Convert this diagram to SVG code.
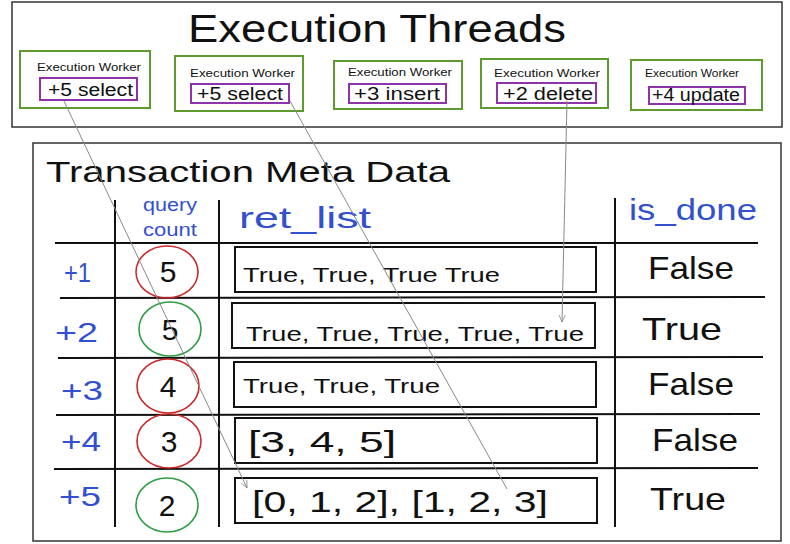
<svg xmlns="http://www.w3.org/2000/svg" width="790" height="544" viewBox="0 0 790 544">
<style>
  .t{font-family:"Liberation Sans","DejaVu Sans",sans-serif;fill:#111}
  .b{font-family:"Liberation Sans","DejaVu Sans",sans-serif;fill:#3350cf}
  .frame{fill:none;stroke:#333;stroke-width:1.5}
  .worker{fill:none;stroke:#5e9a2e;stroke-width:2}
  .op{fill:none;stroke:#8e34a8;stroke-width:2}
  .grid{stroke:#111;stroke-width:2;fill:none}
  .cell{fill:none;stroke:#111;stroke-width:2}
  .red{fill:none;stroke:#c92a2a;stroke-width:1.6}
  .grn{fill:none;stroke:#2f9e44;stroke-width:1.6}
  .conn{fill:none;stroke:#888;stroke-width:1}
</style>
<defs>
  <marker id="ah" viewBox="0 0 10 10" refX="9" refY="5" markerWidth="8" markerHeight="8" orient="auto" markerUnits="userSpaceOnUse">
    <path d="M0,1 L9,5 L0,9" fill="none" stroke="#888" stroke-width="1"/>
  </marker>
</defs>
<rect width="790" height="544" fill="#fff"/>

<g id="execution-threads">
  <rect class="frame" x="12" y="2" width="770" height="125"/>
  <text class="t" x="188" y="42" font-size="38" textLength="378" lengthAdjust="spacingAndGlyphs">Execution Threads</text>
</g>

<g id="worker1">
  <rect class="worker" x="20" y="51" width="130" height="57"/>
  <text class="t" x="37" y="71" font-size="11" textLength="104" lengthAdjust="spacingAndGlyphs">Execution Worker</text>
  <rect class="op" x="40" y="78" width="97" height="22"/>
  <text class="t" x="48" y="96" font-size="18" textLength="85" lengthAdjust="spacingAndGlyphs">+5 select</text>
</g>
<g id="worker2">
  <rect class="worker" x="175" y="56" width="128" height="55"/>
  <text class="t" x="190" y="77" font-size="11" textLength="105" lengthAdjust="spacingAndGlyphs">Execution Worker</text>
  <rect class="op" x="191" y="84" width="98" height="19"/>
  <text class="t" x="197" y="100" font-size="18" textLength="86" lengthAdjust="spacingAndGlyphs">+5 select</text>
</g>
<g id="worker3">
  <rect class="worker" x="334" y="61" width="128" height="48"/>
  <text class="t" x="348" y="76" font-size="11" textLength="104" lengthAdjust="spacingAndGlyphs">Execution Worker</text>
  <rect class="op" x="349" y="84" width="97" height="19"/>
  <text class="t" x="354" y="100" font-size="18" textLength="86" lengthAdjust="spacingAndGlyphs">+3 insert</text>
</g>
<g id="worker4">
  <rect class="worker" x="481" y="59" width="127" height="49"/>
  <text class="t" x="494" y="77" font-size="11" textLength="106" lengthAdjust="spacingAndGlyphs">Execution Worker</text>
  <rect class="op" x="497" y="83" width="99" height="20"/>
  <text class="t" x="503" y="100" font-size="18" textLength="90" lengthAdjust="spacingAndGlyphs">+2 delete</text>
</g>
<g id="worker5">
  <rect class="worker" x="631" y="60" width="131" height="50"/>
  <text class="t" x="645" y="77" font-size="11" textLength="94" lengthAdjust="spacingAndGlyphs">Execution Worker</text>
  <rect class="op" x="649" y="87" width="96" height="17"/>
  <text class="t" x="652" y="101" font-size="18" textLength="88" lengthAdjust="spacingAndGlyphs">+4 update</text>
</g>

<g id="transaction-meta-data">
  <rect class="frame" x="33" y="143" width="748" height="398"/>
  <text class="t" x="46" y="182" font-size="30" textLength="404" lengthAdjust="spacingAndGlyphs">Transaction Meta Data</text>
</g>

<g id="table-grid">
  <line class="grid" x1="115" y1="200" x2="115" y2="527"/>
  <line class="grid" x1="219" y1="200" x2="219" y2="527"/>
  <line class="grid" x1="615" y1="198" x2="615" y2="527"/>
  <line class="grid" x1="55" y1="243" x2="758" y2="243"/>
  <line class="grid" x1="60" y1="298" x2="765" y2="297"/>
  <line class="grid" x1="58" y1="358" x2="763" y2="357"/>
  <line class="grid" x1="56" y1="415" x2="760" y2="414"/>
  <line class="grid" x1="54" y1="469" x2="758" y2="468"/>
</g>

<g id="headers">
  <text class="b" x="143" y="211" font-size="18" textLength="54" lengthAdjust="spacingAndGlyphs">query</text>
  <text class="b" x="143" y="236" font-size="18" textLength="54" lengthAdjust="spacingAndGlyphs">count</text>
  <text class="b" x="239" y="228" font-size="30" textLength="132" lengthAdjust="spacingAndGlyphs">ret_list</text>
  <text class="b" x="629" y="220" font-size="30" textLength="128" lengthAdjust="spacingAndGlyphs">is_done</text>
</g>

<g id="row1">
  <text class="b" x="64" y="282" font-size="28" textLength="27" lengthAdjust="spacingAndGlyphs">+1</text>
  <ellipse class="red" cx="167" cy="272" rx="31" ry="26"/>
  <text class="t" x="168" y="282" font-size="30" text-anchor="middle">5</text>
  <rect class="cell" x="235" y="247" width="361" height="45"/>
  <text class="t" x="243" y="282" font-size="21" textLength="257" lengthAdjust="spacingAndGlyphs">True, True, True True</text>
  <text class="t" x="648" y="279" font-size="32" textLength="86" lengthAdjust="spacingAndGlyphs">False</text>
</g>
<g id="row2">
  <text class="b" x="55" y="342" font-size="28" textLength="43" lengthAdjust="spacingAndGlyphs">+2</text>
  <ellipse class="grn" cx="170" cy="329" rx="31" ry="27"/>
  <text class="t" x="170" y="340" font-size="30" text-anchor="middle">5</text>
  <rect class="cell" x="232" y="303" width="363" height="45"/>
  <text class="t" x="246" y="341" font-size="21" textLength="338" lengthAdjust="spacingAndGlyphs">True, True, True, True, True</text>
  <text class="t" x="642" y="340" font-size="32" textLength="80" lengthAdjust="spacingAndGlyphs">True</text>
</g>
<g id="row3">
  <text class="b" x="61" y="400" font-size="28" textLength="42" lengthAdjust="spacingAndGlyphs">+3</text>
  <ellipse class="red" cx="168" cy="386" rx="31" ry="27"/>
  <text class="t" x="168" y="397" font-size="30" text-anchor="middle">4</text>
  <rect class="cell" x="234" y="362" width="362" height="45"/>
  <text class="t" x="243" y="393" font-size="21" textLength="197" lengthAdjust="spacingAndGlyphs">True, True, True</text>
  <text class="t" x="648" y="395" font-size="32" textLength="86" lengthAdjust="spacingAndGlyphs">False</text>
</g>
<g id="row4">
  <text class="b" x="61" y="451" font-size="28" textLength="40" lengthAdjust="spacingAndGlyphs">+4</text>
  <ellipse class="red" cx="169" cy="441" rx="32" ry="27"/>
  <text class="t" x="169" y="452" font-size="30" text-anchor="middle">3</text>
  <rect class="cell" x="235" y="418" width="362" height="45"/>
  <text class="t" x="248" y="452" font-size="30" textLength="148" lengthAdjust="spacingAndGlyphs">[3, 4, 5]</text>
  <text class="t" x="652" y="451" font-size="32" textLength="86" lengthAdjust="spacingAndGlyphs">False</text>
</g>
<g id="row5">
  <text class="b" x="59" y="506" font-size="28" textLength="42" lengthAdjust="spacingAndGlyphs">+5</text>
  <ellipse class="grn" cx="167" cy="505" rx="31" ry="27"/>
  <text class="t" x="167" y="516" font-size="30" text-anchor="middle">2</text>
  <rect class="cell" x="235" y="478" width="362" height="45"/>
  <text class="t" x="252" y="512" font-size="30" textLength="296" lengthAdjust="spacingAndGlyphs">[0, 1, 2], [1, 2, 3]</text>
  <text class="t" x="650" y="510" font-size="32" textLength="76" lengthAdjust="spacingAndGlyphs">True</text>
</g>

<g id="connectors">
  <line class="conn" x1="64" y1="101" x2="247" y2="488" marker-end="url(#ah)"/>
  <line class="conn" x1="290" y1="101" x2="507" y2="489"/>
  <line class="conn" x1="567" y1="101" x2="562" y2="322" marker-end="url(#ah)"/>
</g>
</svg>
